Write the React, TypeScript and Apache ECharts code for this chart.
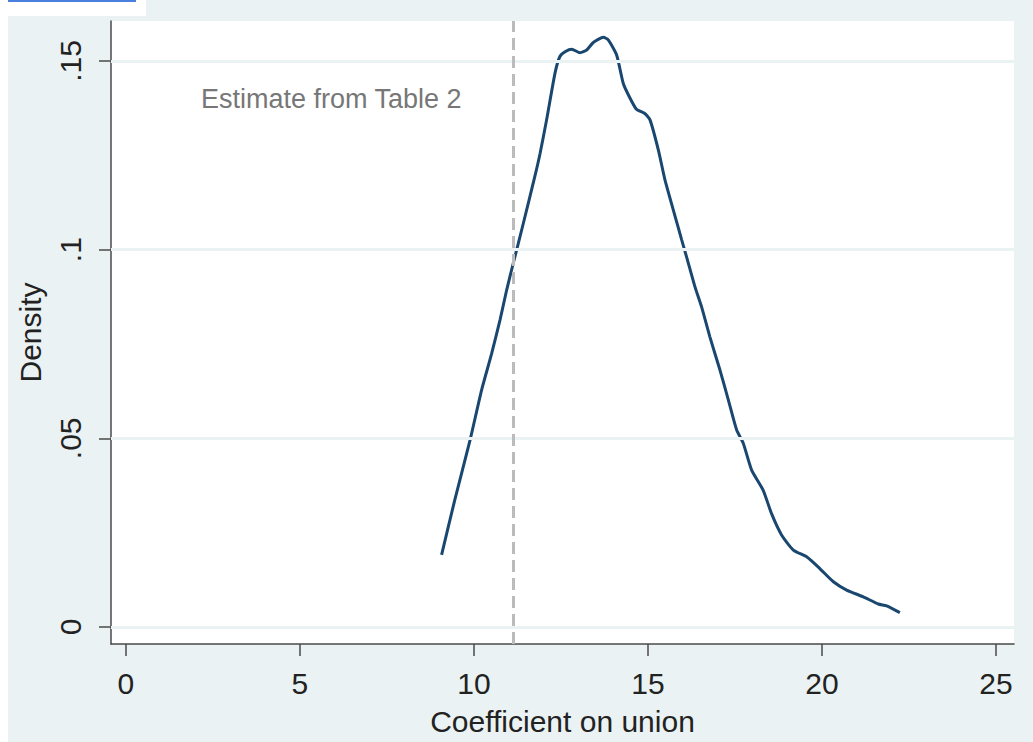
import React, { useEffect, useRef } from "react";
import * as echarts from "echarts";

// Kernel density of the coefficient on union
const densityX = [
  9.07, 9.45, 9.89, 10.22, 10.51, 10.75, 10.94, 11.13, 11.42, 11.75, 11.9, 12.09,
  12.33, 12.47, 12.63, 12.81, 13.05, 13.24, 13.43, 13.72, 13.86, 14.1, 14.29, 14.44,
  14.67, 14.91, 15.06, 15.3, 15.49, 15.73, 15.97, 16.11, 16.35, 16.54, 16.78, 17.07,
  17.31, 17.55, 17.74, 17.98, 18.31, 18.55, 18.84, 19.18, 19.56, 19.94, 20.33, 20.71,
  21.19, 21.62, 21.86, 22.24,
];
const densityY = [
  0.0191, 0.0337, 0.0496, 0.0628, 0.0725, 0.0814, 0.0893, 0.0964, 0.107, 0.1194, 0.1255, 0.1345,
  0.1468, 0.1512, 0.1525, 0.1531, 0.1522, 0.1529, 0.1549, 0.1563, 0.1556, 0.1516, 0.1441, 0.141,
  0.1372, 0.1361, 0.1344, 0.1264, 0.1185, 0.1105, 0.1026, 0.0981, 0.0902, 0.0849, 0.0769, 0.0681,
  0.0602, 0.0522, 0.0487, 0.0416, 0.0363, 0.0301, 0.0244, 0.0204, 0.0186, 0.0155, 0.012, 0.0098,
  0.008, 0.0061, 0.0056, 0.0038,
];
const xTicks = [0, 5, 10, 15, 20, 25];
const yTicks = [0, 0.05, 0.1, 0.15];
const estimateFromTable2 = 11.12;
const annotationText = "Estimate from Table 2";
const xTitle = "Coefficient on union";
const yTitle = "Density";

const FONT = "'Liberation Sans', Arial, sans-serif";
const BG = "#EAF2F3";
const AXIS = "#4a4a4a";

export default function App() {
  const ref = useRef<HTMLDivElement>(null);
  useEffect(() => {
    document.body.style.margin = "0";
    const chart = echarts.init(ref.current!, null, { renderer: "svg" });
    const points = densityX.map((x, i) => [x, densityY[i]]);
    const fmtY = (v: number) => (v === 0 ? "0" : String(v).replace(/^0/, ""));
    chart.setOption({
      animation: false,
      backgroundColor: BG,
      textStyle: { fontFamily: FONT },
      graphic: [
        { type: "rect", shape: { x: 0, y: 0, width: 146, height: 16 }, style: { fill: "#ffffff" }, z: 100 },
        { type: "rect", shape: { x: 0, y: 0, width: 8, height: 742 }, style: { fill: "#ffffff" }, z: 100 },
        { type: "line", shape: { x1: 8, y1: 1, x2: 136, y2: 1 }, style: { stroke: "#4a7fe0", lineWidth: 2 }, z: 101 },
        {
          type: "text",
          x: 201,
          y: 99,
          style: {
            text: annotationText,
            font: `27px ${FONT}`,
            fill: "#777777",
            align: "left",
            verticalAlign: "middle",
          },
          z: 50,
        },
      ],
      grid: {
        left: 111,
        top: 21,
        right: 19,
        bottom: 98,
        show: true,
        backgroundColor: "#ffffff",
        borderWidth: 0,
      },
      xAxis: {
        type: "value",
        min: -0.43,
        max: 25.52,
        name: xTitle,
        nameLocation: "middle",
        nameGap: 62,
        nameTextStyle: { fontSize: 30, color: "#222", fontFamily: FONT },
        axisLine: { show: true, onZero: false, lineStyle: { color: AXIS, width: 1.5 } },
        axisTick: { show: true, length: 12, customValues: xTicks, lineStyle: { color: AXIS, width: 1.5 } },
        axisLabel: { customValues: xTicks, fontSize: 30, color: "#222", margin: 24, fontFamily: FONT },
        splitLine: { show: false },
      },
      yAxis: {
        type: "value",
        min: -0.0045,
        max: 0.1606,
        name: yTitle,
        nameLocation: "middle",
        nameGap: 66,
        nameRotate: 90,
        nameTextStyle: { fontSize: 30, color: "#222", fontFamily: FONT },
        axisLine: { show: true, onZero: false, lineStyle: { color: AXIS, width: 1.5 } },
        axisTick: { show: true, length: 12, customValues: yTicks, lineStyle: { color: AXIS, width: 1.5 } },
        axisLabel: {
          customValues: yTicks,
          rotate: 90,
          fontSize: 30,
          color: "#222",
          margin: 26,
          fontFamily: FONT,
          formatter: fmtY,
        },
        splitLine: { show: false },
      },
      series: [
        {
          type: "line",
          data: [],
          silent: true,
          markLine: {
            silent: true,
            symbol: "none",
            label: { show: false },
            lineStyle: { color: BG, width: 3, type: "solid" },
            data: yTicks.map((v) => ({ yAxis: v })),
          },
          z: 1,
        },
        {
          type: "line",
          data: [],
          silent: true,
          markLine: {
            silent: true,
            symbol: "none",
            label: { show: false },
            lineStyle: { color: "#bbbbbb", width: 3, type: [12, 6] },
            data: [{ xAxis: estimateFromTable2 }],
          },
          z: 2,
        },
        {
          type: "line",
          data: points,
          showSymbol: false,
          smooth: 0.2,
          lineStyle: { color: "#1a476f", width: 3 },
          z: 3,
        },
      ],
    });
    return () => chart.dispose();
  }, []);
  return <div ref={ref} style={{ width: 1033, height: 742 }} />;
}
